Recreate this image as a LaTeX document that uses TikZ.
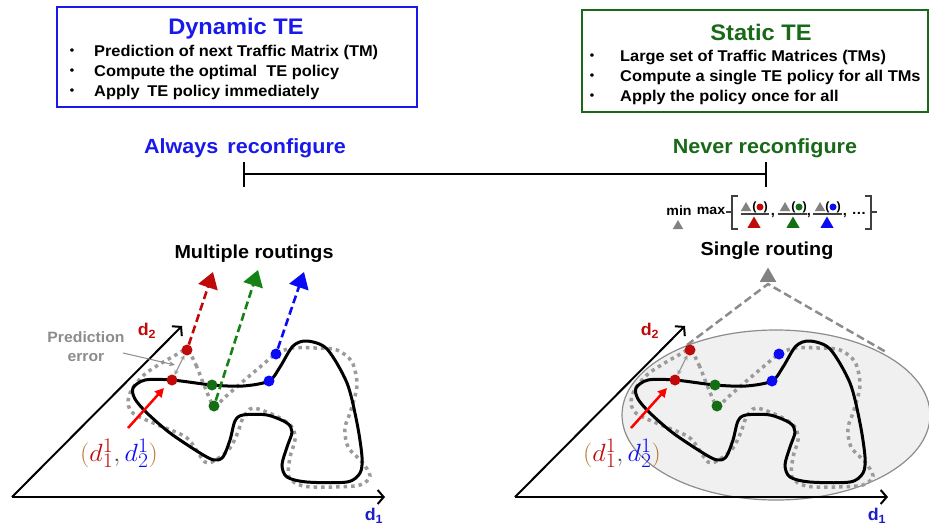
\documentclass[tikz,border=0pt]{standalone}
\usepackage[no-math]{fontspec}
\setmainfont{Liberation Sans}[FakeStretch=1.05]
\usepackage{graphicx}
\usetikzlibrary{arrows.meta,shapes.geometric}
\definecolor{tblue}{RGB}{25,25,235}
\definecolor{tgreen}{RGB}{25,105,25}
\definecolor{dred}{RGB}{192,10,10}
\definecolor{dgreen}{RGB}{20,110,20}
\definecolor{dblue}{RGB}{10,10,245}
\definecolor{aglab}{RGB}{30,30,200}
\definecolor{dotgray}{RGB}{155,155,155}
\definecolor{dashgray}{RGB}{140,140,140}
\definecolor{ellfill}{RGB}{240,240,240}
\definecolor{ellborder}{RGB}{140,140,140}
\definecolor{parcol}{RGB}{185,115,45}
\definecolor{midgray}{RGB}{130,130,130}
\definecolor{dgarrow}{RGB}{20,130,20}
\tikzset{
  fs/.style={font=\fontsize{#1}{#1}\selectfont\bfseries, inner sep=0pt},
  dot/.style={circle, fill=#1, inner sep=0pt, minimum size=11pt},
  tri/.style={regular polygon, regular polygon sides=3, fill=#1, inner sep=0pt, draw=none},
  axis/.style={line width=2pt, -{Straight Barb[length=6pt,width=14pt,line width=2pt]}},
  dasharrow/.style={line width=2.6pt, dash pattern=on 8pt off 4pt, -{Triangle[length=16pt,width=20pt]}},
  dotcurve/.style={dotgray, line width=3.5pt, dash pattern=on 3.5pt off 4pt},
  solidcurve/.style={black, line width=3pt},
  redarrow/.style={red, line width=2.5pt, -{Triangle[length=9pt,width=9pt]}},
  prederr/.style={dotgray, line width=1.2pt, {Stealth[length=5pt,width=5pt]}-{Stealth[length=5pt,width=5pt]}},
  bracketline/.style={line width=1.3pt, black!75},
  gdash/.style={dashgray, line width=2.5pt, dash pattern=on 8pt off 4pt},
  boxline/.style={line width=2pt},
}
\newcommand\drawpanel[1]{%
  \coordinate (#1o) at (12,497);
  \coordinate (#1x) at (385,497);
  \coordinate (#1y) at (182,326);
  \draw[axis] (#1o) -- (#1x);
  \draw[axis] (#1o) -- (#1y);
  \draw[dotcurve] plot[smooth cycle] coordinates {(187,350) (196,365) (204,385) (214,406) (224,398) (240,384) (260,367) (276,354) (292,348) (315,348) (337,350) (352,362) (357,385) (351,410) (345,428) (348,447) (362,462) (370,476) (360,485) (333,487) (303,486) (289,477) (290,457) (295,440) (292,427) (278,417) (253,408) (243,418) (238,432) (230,448) (217,459) (205,462) (187,438) (158,425) (134,414) (128,403) (132,389) (145,374) (160,364) (174,356)};
  \draw[solidcurve] plot[smooth cycle] coordinates {(133,388) (145,380) (172,380) (212,385) (243,386) (269,381) (280,367) (293,346) (307,341) (327,349) (347,383) (357,423) (362,457) (360,473) (347,482) (307,482) (287,477) (282,465) (287,447) (292,432) (287,423) (267,415) (243,415) (235,421) (230,440) (223,457) (214,460) (200,453) (170,433) (147,413) (135,399)};
  \node[dot=dred] (#1ru) at (187,350) {};
  \node[dot=dred] (#1rl) at (172,380) {};
  \node[dot=dgreen] (#1gu) at (212,385) {};
  \node[dot=dgreen] (#1gl) at (214,406) {};
  \node[dot=dblue] (#1bu) at (276,354) {};
  \node[dot=dblue] (#1bl) at (269,381) {};
  \draw[prederr] (#1ru) -- (#1rl);
  \node[fs=17, text=dred] (#1d2) at (147,331) {d\textsubscript{2}};
  \node[fs=17, text=aglab] (#1d1) at (374,516) {d\textsubscript{1}};
  \coordinate (#1as) at (128,428);
  \coordinate (#1ae) at (164,388);
  \draw[redarrow] (#1as) -- (#1ae);
  \node[inner sep=0pt, font=\fontsize{24.88}{24.88}\selectfont] (#1lab) at (119,453)
    {\scalebox{1.05}[1]{$\color{parcol}(\color{dred}d_1^1\color{black!70},\color{dblue}d_2^1\color{parcol})$}};
}
\begin{document}
\begin{tikzpicture}[x=1pt,y=-1pt]
\useasboundingbox (0,0) rectangle (929,528);
% ---------- top boxes ----------
\node[draw=tblue, boxline, minimum width=360pt, minimum height=100pt, inner sep=0pt] (dynbox) at (237,57) {};
\node[fs=22.5, text=tblue] (dyntitle) at (236,29) {Dynamic\hspace{0.3em}TE};
\node[fs=12] (db1) at (72,52) {\textbullet};
\node[fs=12] (db2) at (72,72) {\textbullet};
\node[fs=12] (db3) at (72,92) {\textbullet};
\node[fs=15.6, anchor=west] (dt1) at (94,52) {Prediction of next Traffic Matrix (TM)};
\node[fs=15.6, anchor=west] (dt2) at (94,72) {Compute the optimal\hspace{0.3em} TE policy};
\node[fs=15.6, anchor=west] (dt3) at (94,92) {Apply\hspace{0.2em} TE policy immediately};

\node[draw=tgreen, boxline, minimum width=346pt, minimum height=102pt, inner sep=0pt] (stabox) at (755,61) {};
\node[fs=22.5, text=tgreen] (statitle) at (761,32) {Static TE};
\node[fs=12] (sb1) at (592,57) {\textbullet};
\node[fs=12] (sb2) at (592,77) {\textbullet};
\node[fs=12] (sb3) at (592,97) {\textbullet};
\node[fs=15.6, anchor=west] (st1) at (620,57) {Large set of Traffic Matrices (TMs)};
\node[fs=15.6, anchor=west] (st2) at (620,77) {Compute a single TE policy for all TMs};
\node[fs=15.6, anchor=west] (st3) at (620,97) {Apply the policy once for all};

% ---------- scale bar ----------
\node[fs=20.5, text=tblue] (always) at (245,148) {Always\hspace{0.45em}reconfigure};
\node[fs=20.5, text=tgreen] (never) at (765,148) {Never reconfigure};
\coordinate (bl) at (244,174);
\coordinate (br) at (766,174);
\coordinate (blt) at (244,162);
\coordinate (blb) at (244,187);
\coordinate (brt) at (766,162);
\coordinate (brb) at (766,187);
\draw[line width=2pt] (bl) -- (br);
\draw[line width=2pt] (blt) -- (blb);
\draw[line width=2pt] (brt) -- (brb);

% ---------- min max formula ----------
\node[fs=13.5] (min) at (679,211) {min};
\node[tri=midgray, minimum size=12pt] (mintri) at (678,226) {};
\node[fs=13.5] (max) at (711,211) {max};
\draw[bracketline] (738,196) -- (732,196) -- (732,229) -- (738,229);
\draw[bracketline] (726,212) -- (732,212);
\draw[bracketline] (865,196) -- (871,196) -- (871,229) -- (865,229);
\draw[bracketline] (871,212) -- (877,212);
% fraction 1
\node[tri=midgray, minimum size=12pt] (n1t) at (746,208) {};
\node[fs=12] (n1p) at (760,207) {(\hspace{7pt})};
\node[dot=dred, minimum size=7pt] (n1d) at (760,207) {};
\draw[bracketline] (741,214) -- (769,214);
\node[tri=dred, minimum size=15pt] (d1t) at (754,224) {};
\node[fs=14] (c1) at (773,216) {,};
% fraction 2
\node[tri=midgray, minimum size=12pt] (n2t) at (785,208) {};
\node[fs=12] (n2p) at (799,207) {(\hspace{7pt})};
\node[dot=dgreen, minimum size=7pt] (n2d) at (799,207) {};
\draw[bracketline] (778,214) -- (807,214);
\node[tri=dgreen, minimum size=15pt] (d2t) at (793,224) {};
\node[fs=14] (c2) at (809,216) {,};
% fraction 3
\node[tri=midgray, minimum size=12pt] (n3t) at (820,208) {};
\node[fs=12] (n3p) at (833,207) {(\hspace{7pt})};
\node[dot=dblue, minimum size=7pt] (n3d) at (833,207) {};
\draw[bracketline] (813,214) -- (842,214);
\node[tri=dblue, minimum size=15pt] (d3t) at (827,224) {};
\node[fs=14] (c3) at (845,216) {,};
\node[fs=14] (dots) at (859,213) {\ldots};

% ---------- labels ----------
\node[fs=18.8] (multi) at (254,254) {Multiple routings};
\node[fs=18.8] (single) at (767,251) {Single routing};

% ---------- right panel background ----------
\node[ellipse, draw=ellborder, fill=ellfill, line width=1.2pt, minimum width=308pt, minimum height=170pt, inner sep=0pt] (ell) at (776,415) {};
\node[tri=midgray, minimum size=19pt] (apex) at (768,277) {};
\coordinate (apexb) at (768,284);
\coordinate (tl) at (687,345);
\coordinate (tr) at (886,352);
\draw[gdash] (tl) -- (apexb) -- (tr);

% ---------- left panel ----------
\drawpanel{L}
\coordinate (rtip) at (213,272);
\coordinate (gtip) at (258,270);
\coordinate (btip) at (304,272);
\draw[dasharrow, dred] (Lru) -- (rtip);
\draw[dasharrow, dgarrow] (Lgl) -- (gtip);
\draw[dasharrow, dblue] (Lbu) -- (btip);
\node[text=dashgray, align=center, inner sep=0pt, font=\fontsize{15}{19}\selectfont\bfseries] (pred) at (86,347) {Prediction\\error};
\coordinate (pe1) at (123,353);
\coordinate (pe2) at (175,365);
\draw[dashgray, line width=1pt, -{Stealth[length=6pt,width=5pt]}] (pe1) -- (pe2);

% ---------- right panel ----------
\begin{scope}[xshift=503pt]
\drawpanel{R}
\end{scope}
\end{tikzpicture}
\end{document}
